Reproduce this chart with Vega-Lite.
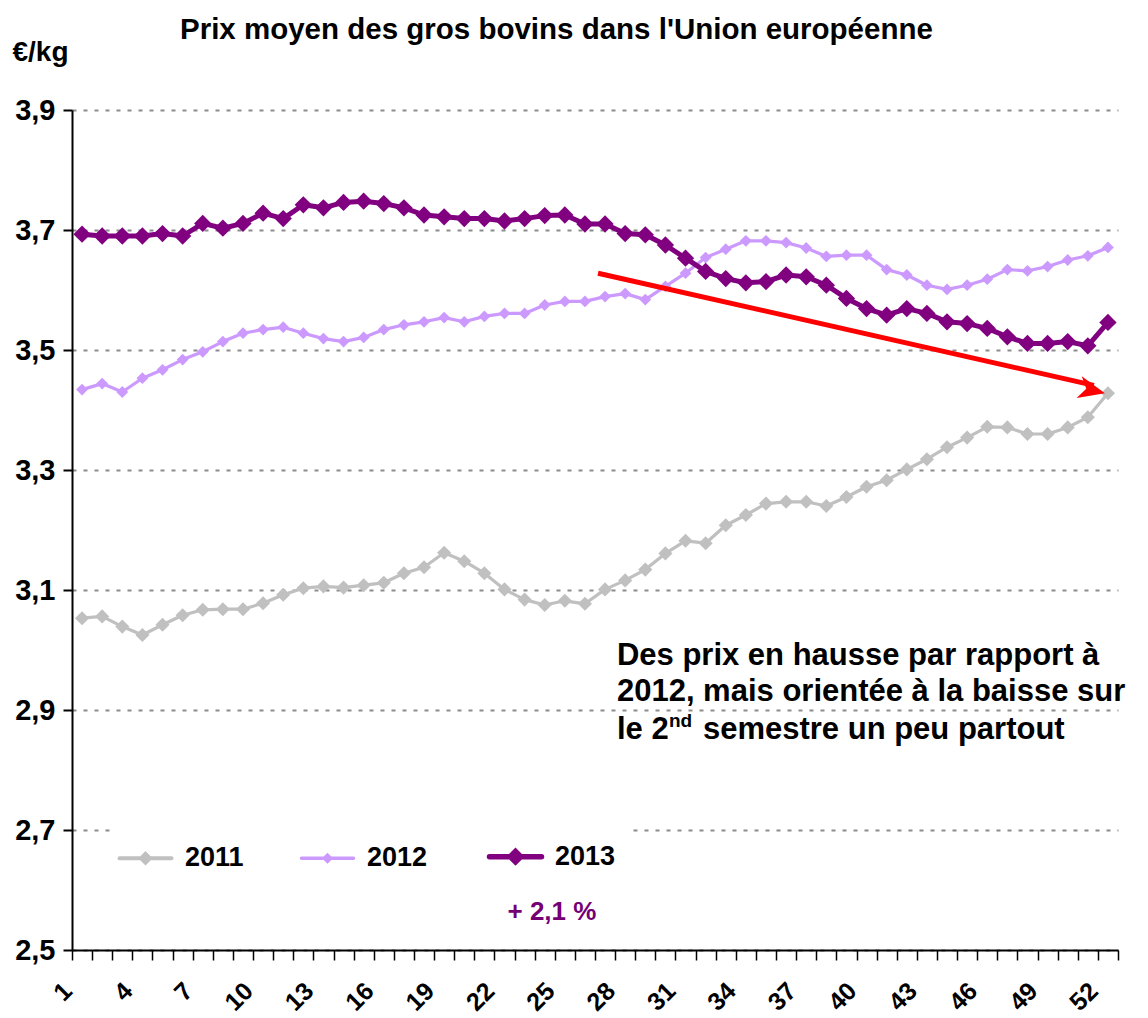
{
  "$schema": "https://vega.github.io/schema/vega-lite/v6.json",
  "width": 1046,
  "height": 840,
  "autosize": {"type": "none"},
  "padding": {"left": 72, "top": 110, "right": 30, "bottom": 68},
  "background": "white",
  "config": {
    "font": "Liberation Sans",
    "view": {"stroke": null}
  },
  "title": {
    "text": "Prix moyen des gros bovins dans l'Union européenne",
    "anchor": "start",
    "frame": "group",
    "dx": 108,
    "dy": 7,
    "offset": 0,
    "fontSize": 29.5,
    "fontWeight": "bold",
    "color": "black"
  },
  "datasets": {
    "prices": [
      {"week": 1, "year": "2011", "price": 3.053}, {"week": 2, "year": "2011", "price": 3.056}, {"week": 3, "year": "2011", "price": 3.039}, {"week": 4, "year": "2011", "price": 3.025},
      {"week": 5, "year": "2011", "price": 3.042}, {"week": 6, "year": "2011", "price": 3.058}, {"week": 7, "year": "2011", "price": 3.067}, {"week": 8, "year": "2011", "price": 3.068},
      {"week": 9, "year": "2011", "price": 3.068}, {"week": 10, "year": "2011", "price": 3.078}, {"week": 11, "year": "2011", "price": 3.092}, {"week": 12, "year": "2011", "price": 3.103},
      {"week": 13, "year": "2011", "price": 3.106}, {"week": 14, "year": "2011", "price": 3.104}, {"week": 15, "year": "2011", "price": 3.108}, {"week": 16, "year": "2011", "price": 3.112},
      {"week": 17, "year": "2011", "price": 3.128}, {"week": 18, "year": "2011", "price": 3.138}, {"week": 19, "year": "2011", "price": 3.162}, {"week": 20, "year": "2011", "price": 3.148},
      {"week": 21, "year": "2011", "price": 3.128}, {"week": 22, "year": "2011", "price": 3.101}, {"week": 23, "year": "2011", "price": 3.084}, {"week": 24, "year": "2011", "price": 3.075},
      {"week": 25, "year": "2011", "price": 3.082}, {"week": 26, "year": "2011", "price": 3.077}, {"week": 27, "year": "2011", "price": 3.101}, {"week": 28, "year": "2011", "price": 3.116},
      {"week": 29, "year": "2011", "price": 3.134}, {"week": 30, "year": "2011", "price": 3.161}, {"week": 31, "year": "2011", "price": 3.182}, {"week": 32, "year": "2011", "price": 3.178},
      {"week": 33, "year": "2011", "price": 3.208}, {"week": 34, "year": "2011", "price": 3.225}, {"week": 35, "year": "2011", "price": 3.244}, {"week": 36, "year": "2011", "price": 3.247},
      {"week": 37, "year": "2011", "price": 3.247}, {"week": 38, "year": "2011", "price": 3.240}, {"week": 39, "year": "2011", "price": 3.255}, {"week": 40, "year": "2011", "price": 3.272},
      {"week": 41, "year": "2011", "price": 3.283}, {"week": 42, "year": "2011", "price": 3.301}, {"week": 43, "year": "2011", "price": 3.318}, {"week": 44, "year": "2011", "price": 3.338},
      {"week": 45, "year": "2011", "price": 3.354}, {"week": 46, "year": "2011", "price": 3.372}, {"week": 47, "year": "2011", "price": 3.371}, {"week": 48, "year": "2011", "price": 3.360},
      {"week": 49, "year": "2011", "price": 3.360}, {"week": 50, "year": "2011", "price": 3.371}, {"week": 51, "year": "2011", "price": 3.388}, {"week": 52, "year": "2011", "price": 3.428},

      {"week": 1, "year": "2012", "price": 3.434}, {"week": 2, "year": "2012", "price": 3.444}, {"week": 3, "year": "2012", "price": 3.430}, {"week": 4, "year": "2012", "price": 3.453},
      {"week": 5, "year": "2012", "price": 3.467}, {"week": 6, "year": "2012", "price": 3.484}, {"week": 7, "year": "2012", "price": 3.497}, {"week": 8, "year": "2012", "price": 3.514},
      {"week": 9, "year": "2012", "price": 3.528}, {"week": 10, "year": "2012", "price": 3.534}, {"week": 11, "year": "2012", "price": 3.538}, {"week": 12, "year": "2012", "price": 3.528},
      {"week": 13, "year": "2012", "price": 3.519}, {"week": 14, "year": "2012", "price": 3.514}, {"week": 15, "year": "2012", "price": 3.521}, {"week": 16, "year": "2012", "price": 3.534},
      {"week": 17, "year": "2012", "price": 3.542}, {"week": 18, "year": "2012", "price": 3.547}, {"week": 19, "year": "2012", "price": 3.554}, {"week": 20, "year": "2012", "price": 3.547},
      {"week": 21, "year": "2012", "price": 3.556}, {"week": 22, "year": "2012", "price": 3.561}, {"week": 23, "year": "2012", "price": 3.561}, {"week": 24, "year": "2012", "price": 3.575},
      {"week": 25, "year": "2012", "price": 3.581}, {"week": 26, "year": "2012", "price": 3.581}, {"week": 27, "year": "2012", "price": 3.589}, {"week": 28, "year": "2012", "price": 3.594},
      {"week": 29, "year": "2012", "price": 3.584}, {"week": 30, "year": "2012", "price": 3.606}, {"week": 31, "year": "2012", "price": 3.628}, {"week": 32, "year": "2012", "price": 3.654},
      {"week": 33, "year": "2012", "price": 3.668}, {"week": 34, "year": "2012", "price": 3.682}, {"week": 35, "year": "2012", "price": 3.682}, {"week": 36, "year": "2012", "price": 3.679},
      {"week": 37, "year": "2012", "price": 3.670}, {"week": 38, "year": "2012", "price": 3.656}, {"week": 39, "year": "2012", "price": 3.658}, {"week": 40, "year": "2012", "price": 3.658},
      {"week": 41, "year": "2012", "price": 3.634}, {"week": 42, "year": "2012", "price": 3.625}, {"week": 43, "year": "2012", "price": 3.608}, {"week": 44, "year": "2012", "price": 3.601},
      {"week": 45, "year": "2012", "price": 3.608}, {"week": 46, "year": "2012", "price": 3.618}, {"week": 47, "year": "2012", "price": 3.634}, {"week": 48, "year": "2012", "price": 3.632},
      {"week": 49, "year": "2012", "price": 3.639}, {"week": 50, "year": "2012", "price": 3.650}, {"week": 51, "year": "2012", "price": 3.657}, {"week": 52, "year": "2012", "price": 3.671},

      {"week": 1, "year": "2013", "price": 3.693}, {"week": 2, "year": "2013", "price": 3.690}, {"week": 3, "year": "2013", "price": 3.690}, {"week": 4, "year": "2013", "price": 3.690},
      {"week": 5, "year": "2013", "price": 3.694}, {"week": 6, "year": "2013", "price": 3.690}, {"week": 7, "year": "2013", "price": 3.711}, {"week": 8, "year": "2013", "price": 3.703},
      {"week": 9, "year": "2013", "price": 3.711}, {"week": 10, "year": "2013", "price": 3.728}, {"week": 11, "year": "2013", "price": 3.719}, {"week": 12, "year": "2013", "price": 3.742},
      {"week": 13, "year": "2013", "price": 3.737}, {"week": 14, "year": "2013", "price": 3.746}, {"week": 15, "year": "2013", "price": 3.748}, {"week": 16, "year": "2013", "price": 3.744},
      {"week": 17, "year": "2013", "price": 3.737}, {"week": 18, "year": "2013", "price": 3.725}, {"week": 19, "year": "2013", "price": 3.722}, {"week": 20, "year": "2013", "price": 3.719},
      {"week": 21, "year": "2013", "price": 3.719}, {"week": 22, "year": "2013", "price": 3.715}, {"week": 23, "year": "2013", "price": 3.719}, {"week": 24, "year": "2013", "price": 3.724},
      {"week": 25, "year": "2013", "price": 3.725}, {"week": 26, "year": "2013", "price": 3.710}, {"week": 27, "year": "2013", "price": 3.710}, {"week": 28, "year": "2013", "price": 3.694},
      {"week": 29, "year": "2013", "price": 3.692}, {"week": 30, "year": "2013", "price": 3.675}, {"week": 31, "year": "2013", "price": 3.653}, {"week": 32, "year": "2013", "price": 3.631},
      {"week": 33, "year": "2013", "price": 3.619}, {"week": 34, "year": "2013", "price": 3.612}, {"week": 35, "year": "2013", "price": 3.614}, {"week": 36, "year": "2013", "price": 3.625},
      {"week": 37, "year": "2013", "price": 3.622}, {"week": 38, "year": "2013", "price": 3.608}, {"week": 39, "year": "2013", "price": 3.586}, {"week": 40, "year": "2013", "price": 3.569},
      {"week": 41, "year": "2013", "price": 3.558}, {"week": 42, "year": "2013", "price": 3.569}, {"week": 43, "year": "2013", "price": 3.561}, {"week": 44, "year": "2013", "price": 3.547},
      {"week": 45, "year": "2013", "price": 3.544}, {"week": 46, "year": "2013", "price": 3.536}, {"week": 47, "year": "2013", "price": 3.522}, {"week": 48, "year": "2013", "price": 3.511},
      {"week": 49, "year": "2013", "price": 3.511}, {"week": 50, "year": "2013", "price": 3.514}, {"week": 51, "year": "2013", "price": 3.507}, {"week": 52, "year": "2013", "price": 3.546}
    ],
    "trend": [
      {"week": 26.65, "price": 3.628},
      {"week": 51.3, "price": 3.441}
    ],
    "trendTip": [
      {"week": 51.85, "price": 3.428}
    ]
  },
  "encoding": {
    "x": {
      "field": "week",
      "type": "quantitative",
      "scale": {"domain": [0.5, 52.5], "nice": false, "zero": false},
      "axis": {
        "title": null,
        "values": [0.5, 1.5, 2.5, 3.5, 4.5, 5.5, 6.5, 7.5, 8.5, 9.5, 10.5, 11.5, 12.5, 13.5, 14.5, 15.5, 16.5, 17.5, 18.5, 19.5, 20.5, 21.5, 22.5, 23.5, 24.5, 25.5, 26.5, 27.5, 28.5, 29.5, 30.5, 31.5, 32.5, 33.5, 34.5, 35.5, 36.5, 37.5, 38.5, 39.5, 40.5, 41.5, 42.5, 43.5, 44.5, 45.5, 46.5, 47.5, 48.5, 49.5, 50.5, 51.5, 52.5],
        "labelExpr": "(datum.value - 0.5) % 3 === 0 ? format(datum.value + 0.5, 'd') : ''",
        "labelOffset": -13,
        "labelAngle": -45,
        "labelFontSize": 25,
        "labelFontWeight": "bold",
        "labelColor": "black",
        "labelPadding": 18,
        "labelOverlap": false,
        "labelBound": false,
        "labelFlush": false,
        "grid": false,
        "domainColor": "black",
        "domainWidth": 2,
        "tickColor": "black",
        "tickWidth": 1.5,
        "tickSize": 10
      }
    },
    "y": {
      "field": "price",
      "type": "quantitative",
      "scale": {"domain": [2.5, 3.9], "nice": false, "zero": false},
      "axis": {
        "title": "€/kg",
        "titleAngle": 0,
        "titleX": -60,
        "titleY": -58,
        "titleAlign": "left",
        "titleBaseline": "middle",
        "titleFontSize": 28,
        "titleFontWeight": "bold",
        "titleColor": "black",
        "values": [2.5, 2.7, 2.9, 3.1, 3.3, 3.5, 3.7, 3.9],
        "labelExpr": "replace(format(datum.value, '.1f'), '.', ',')",
        "labelFontSize": 29,
        "labelFontWeight": "bold",
        "labelColor": "black",
        "labelPadding": 8,
        "grid": true,
        "gridColor": "#8c8c8c",
        "gridDash": [4, 7],
        "gridWidth": 2,
        "domainColor": "black",
        "domainWidth": 2,
        "tickColor": "black",
        "tickWidth": 2,
        "tickSize": 9
      }
    }
  },
  "layer": [
    {
      "data": {"name": "prices"},
      "mark": {"type": "line", "strokeJoin": "round"},
      "encoding": {
        "color": {
          "field": "year",
          "type": "nominal",
          "scale": {"domain": ["2011", "2012", "2013"], "range": ["#c0c0c0", "#cc99ff", "#800080"]},
          "legend": {
            "title": null,
            "orient": "none",
            "legendX": 44,
            "legendY": 717,
            "direction": "horizontal",
            "fillColor": "white",
            "padding": 16,
            "labelFontSize": 27,
            "labelFontWeight": "bold",
            "labelColor": "black",
            "labelOffset": 26,
            "columnPadding": 50,
            "symbolSize": 2704,
            "symbolStrokeWidth": 4,
            "symbolType": "M-1,0H1",
            "encode": {
              "symbols": {
                "update": {
                  "shape": {"signal": "datum.value === '2013' ? 'M-1,0H1M0,-0.2L0.2,0L0,0.2L-0.2,0Z' : datum.value === '2012' ? 'M-1,0H1M0,-0.12L0.12,0L0,0.12L-0.12,0Z' : 'M-1,0H1M0,-0.17L0.17,0L0,0.17L-0.17,0Z'"},
                  "strokeWidth": {"signal": "datum.value === '2013' ? 5.5 : datum.value === '2012' ? 3.5 : 4"},
                  "fill": {"scale": "color", "field": "value"},
                  "stroke": {"scale": "color", "field": "value"},
                  "strokeCap": {"value": "round"},
                  "opacity": {"value": 1}
                }
              }
            }
          }
        },
        "strokeWidth": {"condition": {"test": "datum.year === '2013'", "value": 5}, "value": 3.2}
      }
    },
    {
      "data": {"name": "prices"},
      "mark": {"type": "point", "shape": "diamond", "filled": true, "opacity": 1},
      "encoding": {
        "color": {"field": "year", "type": "nominal", "legend": null},
        "size": {"condition": [{"test": "datum.year === '2013'", "value": 300}, {"test": "datum.year === '2011'", "value": 200}], "value": 140}
      }
    },
    {
      "data": {"name": "trend"},
      "mark": {"type": "line", "color": "#ff0000", "strokeWidth": 5}
    },
    {
      "data": {"name": "trendTip"},
      "mark": {
        "type": "point",
        "shape": "M0,0L-2,-0.85L-1.45,0L-2,0.85Z",
        "filled": true,
        "color": "#ff0000",
        "opacity": 1,
        "size": 700,
        "angle": 13.3
      }
    },
    {
      "data": {"values": [
        {"week": 27.59, "price": 2.99, "label": "Des prix en hausse par rapport à"},
        {"week": 27.59, "price": 2.93, "label": "2012, mais orientée à la baisse sur"},
        {"week": 27.59, "price": 2.867, "label": "le 2"}
      ]},
      "mark": {"type": "text", "align": "left", "baseline": "middle", "fontSize": 31, "fontWeight": "bold", "color": "black"},
      "encoding": {"text": {"field": "label", "type": "nominal"}}
    },
    {
      "data": {"values": [{"week": 27.59, "price": 2.867, "label": "nd"}]},
      "mark": {"type": "text", "align": "left", "baseline": "middle", "fontSize": 19, "fontWeight": "bold", "color": "black", "dx": 52, "dy": -9},
      "encoding": {"text": {"field": "label", "type": "nominal"}}
    },
    {
      "data": {"values": [{"week": 27.59, "price": 2.867, "label": "semestre un peu partout"}]},
      "mark": {"type": "text", "align": "left", "baseline": "middle", "fontSize": 31, "fontWeight": "bold", "color": "black", "dx": 86},
      "encoding": {"text": {"field": "label", "type": "nominal"}}
    },
    {
      "data": {"values": [{"week": 24.36, "price": 2.563, "label": "+ 2,1 %"}]},
      "mark": {"type": "text", "align": "center", "baseline": "middle", "fontSize": 26, "fontWeight": "bold", "color": "#740074"},
      "encoding": {"text": {"field": "label", "type": "nominal"}}
    }
  ]
}
